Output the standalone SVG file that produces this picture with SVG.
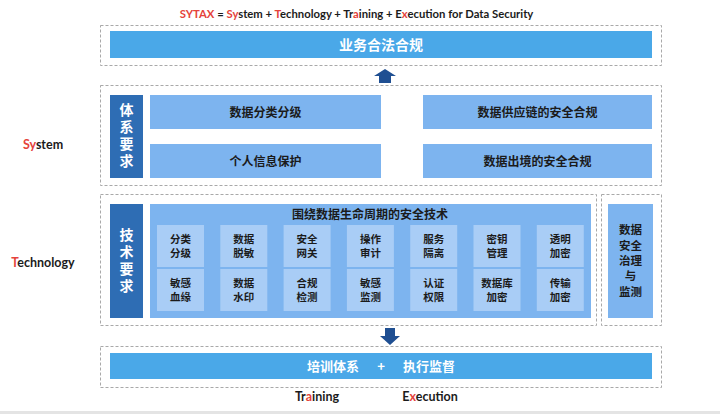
<svg xmlns="http://www.w3.org/2000/svg" width="720" height="414" viewBox="0 0 720 414">
<style>
.dash{fill:none;stroke:#a9a9a9;stroke-width:1;stroke-dasharray:3 2}
.bar{fill:#4aa8e8}
.lab{fill:#2e6db4}
.item{fill:#7db4ef}
.cell{fill:#a9cdf6}
.cjk{font-family:"Noto Sans CJK SC","Noto Sans",sans-serif;font-weight:bold}
.lat{font-family:Lato,"Liberation Sans",sans-serif;font-weight:bold}
.w{fill:#ffffff}
.d{fill:#1b1b1b}
.r{fill:#e5433b}
.arrow{fill:#1f4f92}
.vert{writing-mode:vertical-rl;letter-spacing:3px}
</style>
<rect x="0" y="0" width="720" height="414" fill="#ffffff"/>
<rect x="0" y="411" width="720" height="3" fill="#e4e4e4"/>

<text id="title" class="lat d" x="356.5" y="18" font-size="11.3" text-anchor="middle"><tspan class="r">SYTAX</tspan> = <tspan class="r">Sy</tspan>stem + <tspan class="r">T</tspan>echnology + Tr<tspan class="r">a</tspan>ining + E<tspan class="r">x</tspan>ecution for Data Security</text>

<text id="lbl-system" class="lat d" x="43" y="149" font-size="12.5" text-anchor="middle"><tspan class="r">Sy</tspan>stem</text>
<text id="lbl-technology" class="lat d" x="43" y="267" font-size="12.5" text-anchor="middle"><tspan class="r">T</tspan>echnology</text>
<text id="lbl-training" class="lat d" x="317" y="401" font-size="12.5" text-anchor="middle">Tr<tspan class="r">a</tspan>ining</text>
<text id="lbl-execution" class="lat d" x="430" y="401" font-size="12.5" text-anchor="middle">E<tspan class="r">x</tspan>ecution</text>

<g id="layer-business">
<rect class="dash" x="100.5" y="25.5" width="561" height="40"/>
<rect class="bar" x="110" y="31" width="542" height="27"/>
<text class="cjk w" x="381" y="49.5" font-size="14" text-anchor="middle">业务合法合规</text>
</g>

<g id="layer-system">
<rect class="dash" x="100.5" y="85.5" width="561" height="100"/>
<rect class="lab" x="110" y="95" width="33" height="83"/>
<text class="cjk w vert" x="126.5" y="137" font-size="14" text-anchor="middle">体系要求</text>
<g id="sys-1"><rect class="item" x="150" y="95" width="231" height="34"/><text class="cjk d" x="265.5" y="116.5" font-size="12" text-anchor="middle">数据分类分级</text></g>
<g id="sys-2"><rect class="item" x="150" y="144" width="231" height="34"/><text class="cjk d" x="265.5" y="165.5" font-size="12" text-anchor="middle">个人信息保护</text></g>
<g id="sys-3"><rect class="item" x="423" y="95" width="229" height="34"/><text class="cjk d" x="537.5" y="116.5" font-size="12" text-anchor="middle">数据供应链的安全合规</text></g>
<g id="sys-4"><rect class="item" x="423" y="144" width="229" height="34"/><text class="cjk d" x="537.5" y="165.5" font-size="12" text-anchor="middle">数据出境的安全合规</text></g>
</g>

<g id="layer-tech">
<rect class="dash" x="100.5" y="194.5" width="496" height="131"/>
<rect class="lab" x="110" y="204" width="33" height="114"/>
<text class="cjk w vert" x="126.5" y="262" font-size="14" text-anchor="middle">技术要求</text>
<rect class="item" x="150" y="204" width="441" height="114"/>
<text class="cjk d" x="370" y="218.5" font-size="12" text-anchor="middle">围绕数据生命周期的安全技术</text>
<g class="cjk d" font-size="10.5" text-anchor="middle">
<g id="c1"><rect class="cell" x="157" y="225" width="47" height="42"/><text><tspan x="180.5" y="243">分类</tspan><tspan x="180.5" y="257">分级</tspan></text></g>
<g id="c2"><rect class="cell" x="220.3" y="225" width="47" height="42"/><text><tspan x="243.8" y="243">数据</tspan><tspan x="243.8" y="257">脱敏</tspan></text></g>
<g id="c3"><rect class="cell" x="283.6" y="225" width="47" height="42"/><text><tspan x="307.1" y="243">安全</tspan><tspan x="307.1" y="257">网关</tspan></text></g>
<g id="c4"><rect class="cell" x="346.9" y="225" width="47" height="42"/><text><tspan x="370.4" y="243">操作</tspan><tspan x="370.4" y="257">审计</tspan></text></g>
<g id="c5"><rect class="cell" x="410.2" y="225" width="47" height="42"/><text><tspan x="433.7" y="243">服务</tspan><tspan x="433.7" y="257">隔离</tspan></text></g>
<g id="c6"><rect class="cell" x="473.5" y="225" width="47" height="42"/><text><tspan x="497" y="243">密钥</tspan><tspan x="497" y="257">管理</tspan></text></g>
<g id="c7"><rect class="cell" x="536.8" y="225" width="47" height="42"/><text><tspan x="560.3" y="243">透明</tspan><tspan x="560.3" y="257">加密</tspan></text></g>
<g id="c8"><rect class="cell" x="157" y="269" width="47" height="42"/><text><tspan x="180.5" y="287">敏感</tspan><tspan x="180.5" y="301">血缘</tspan></text></g>
<g id="c9"><rect class="cell" x="220.3" y="269" width="47" height="42"/><text><tspan x="243.8" y="287">数据</tspan><tspan x="243.8" y="301">水印</tspan></text></g>
<g id="c10"><rect class="cell" x="283.6" y="269" width="47" height="42"/><text><tspan x="307.1" y="287">合规</tspan><tspan x="307.1" y="301">检测</tspan></text></g>
<g id="c11"><rect class="cell" x="346.9" y="269" width="47" height="42"/><text><tspan x="370.4" y="287">敏感</tspan><tspan x="370.4" y="301">监测</tspan></text></g>
<g id="c12"><rect class="cell" x="410.2" y="269" width="47" height="42"/><text><tspan x="433.7" y="287">认证</tspan><tspan x="433.7" y="301">权限</tspan></text></g>
<g id="c13"><rect class="cell" x="473.5" y="269" width="47" height="42"/><text><tspan x="497" y="287">数据库</tspan><tspan x="497" y="301">加密</tspan></text></g>
<g id="c14"><rect class="cell" x="536.8" y="269" width="47" height="42"/><text><tspan x="560.3" y="287">传输</tspan><tspan x="560.3" y="301">加密</tspan></text></g>
</g>
</g>

<g id="layer-governance">
<rect class="dash" x="601.5" y="194.5" width="60" height="131"/>
<rect class="item" x="608" y="204" width="45" height="114"/>
<text class="cjk d" font-size="11.5" text-anchor="middle"><tspan x="630.5" y="234.2">数据</tspan><tspan x="630.5" y="249.6">安全</tspan><tspan x="630.5" y="265">治理</tspan><tspan x="630.5" y="280.4">与</tspan><tspan x="630.5" y="295.8">监测</tspan></text>
</g>

<g id="layer-execution">
<rect class="dash" x="100.5" y="346.5" width="561" height="41"/>
<rect class="bar" x="110" y="353" width="542" height="26"/>
<text class="cjk w" font-size="13" text-anchor="middle"><tspan x="333" y="370.5">培训体系</tspan><tspan x="381" y="370.5">+</tspan><tspan x="429" y="370.5">执行监督</tspan></text>
</g>

<g id="connectors">
<polygon class="arrow" points="385,69 396,76 391,76 391,83 379,83 379,76 374,76"/>
<polygon class="arrow" points="385,328 395,328 395,336 400,336 390,345 380,336 385,336"/>
</g>
</svg>
